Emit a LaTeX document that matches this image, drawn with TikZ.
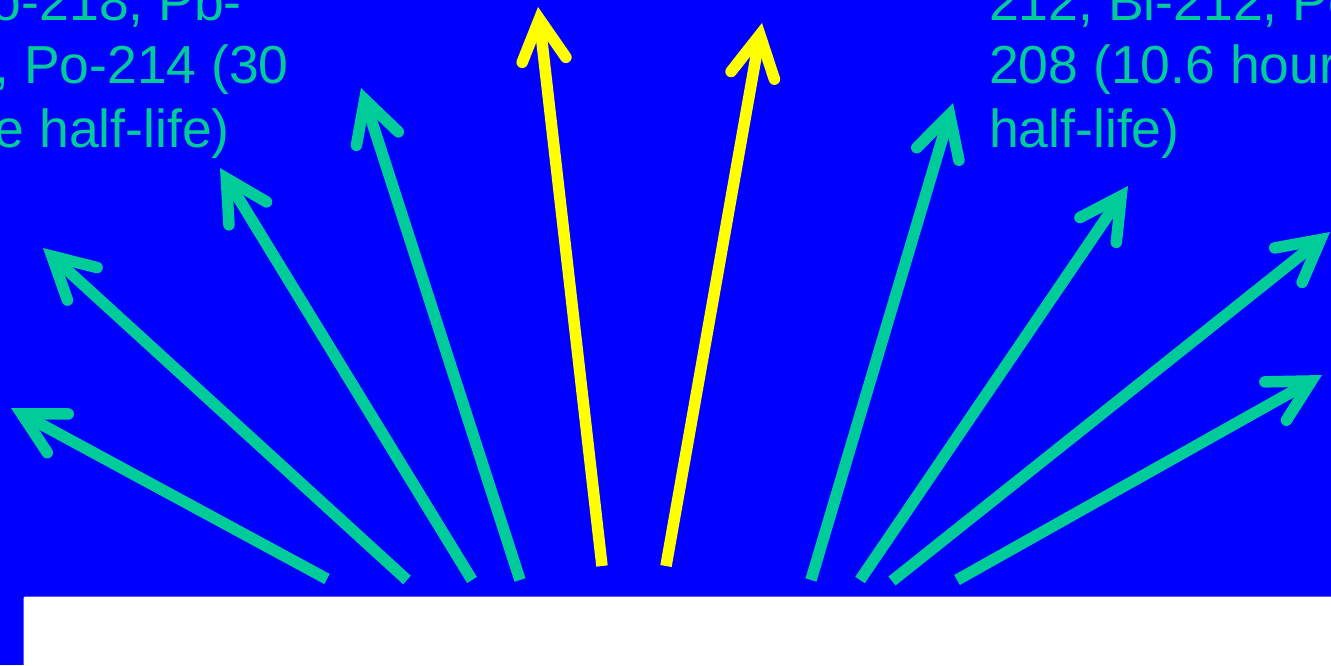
\documentclass[tikz,border=0pt]{standalone}
\usepackage{fontspec}
\setmainfont{Liberation Sans}
\usetikzlibrary{arrows.meta}
\definecolor{bgblue}{RGB}{0,0,255}
\definecolor{ragreen}{RGB}{0,204,153}
\definecolor{rayellow}{RGB}{255,255,0}
\tikzset{
  ray/.style={line width=11.5pt, -{Straight Barb[length=41pt,width=44pt,line cap=round,line join=miter]}},
  greenray/.style={ray, draw=ragreen},
  yellowray/.style={ray, draw=rayellow},
  lbl/.style={text=ragreen, inner sep=0pt, font=\fontsize{53.5}{63.5}\selectfont}
}
\begin{document}
\begin{tikzpicture}[x=1pt,y=-1pt]
\useasboundingbox (0,0) rectangle (1331,665);
\clip (0,0) rectangle (1331,665);
\fill[bgblue] (0,0) rectangle (1331,665);
\fill[white, rounded corners=2pt] (23.5,596.5) rectangle (1345,680);
% text
\node[lbl, anchor=base east] (l1) at (242,20) {Po-218, Pb-};
\node[lbl, anchor=base east] (l2) at (289,83.5) {Bi-214, Po-214 (30};
\node[lbl, anchor=base east] (l3) at (230,147) {minute half-life)};
\node[lbl, anchor=base west] (r1) at (989,20) {212, Bi-212, Po-};
\node[lbl, anchor=base west] (r2) at (989,83.5) {208 (10.6 hours};
\node[lbl, anchor=base west] (r3) at (989,147) {half-life)};
% coordinates
\coordinate (s1) at (327,579);  \coordinate (t1) at (11,408);
\coordinate (s2) at (407,580);  \coordinate (t2) at (43,248);
\coordinate (s3) at (472,580);  \coordinate (t3) at (220,168);
\coordinate (s4) at (520,580);  \coordinate (t4) at (361,88);
\coordinate (s5) at (602,566);  \coordinate (t5) at (538,7);
\coordinate (s6) at (666,566);  \coordinate (t6) at (762,23);
\coordinate (s7) at (811,580);  \coordinate (t7) at (953,103);
\coordinate (s8) at (860,580);  \coordinate (t8) at (1128,186);
\coordinate (s9) at (892,581);  \coordinate (t9) at (1330,232);
\coordinate (s10) at (957,580); \coordinate (t10) at (1322,375);
\foreach \i in {1,2,3,4,7,8,9,10} \draw[greenray] (s\i) -- (t\i);
\foreach \i in {5,6} \draw[yellowray] (s\i) -- (t\i);
\end{tikzpicture}
\end{document}
